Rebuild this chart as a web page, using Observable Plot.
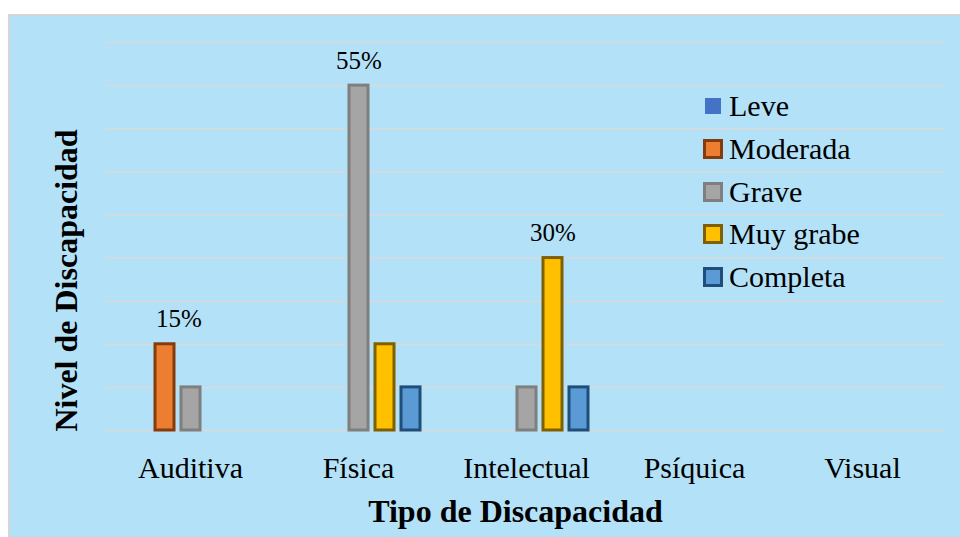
<!DOCTYPE html>
<html><head><meta charset="utf-8">
<script src="https://cdn.jsdelivr.net/npm/d3@7"></script>
<script src="https://cdn.jsdelivr.net/npm/@observablehq/plot@0.6"></script>
<style>
html,body{margin:0;padding:0;background:#fff;}
#wrap{position:relative;width:960px;height:537px;overflow:hidden;}
#bg{position:absolute;left:8px;top:14px;width:980px;height:560px;background:#b3e1f7;border-left:2px solid #d6d6d6;border-top:2px solid #d6d6d6;}
#chart{position:absolute;left:0;top:0;}
#legend{position:absolute;left:703px;top:85px;font-family:"Liberation Serif","Times New Roman",serif;font-size:30px;color:#000;}
.row{display:flex;align-items:center;height:42.7px;white-space:nowrap;}
.sw{box-sizing:border-box;margin-right:6px;}
</style></head><body>
<div id="wrap"><div id="bg"></div><div id="chart"></div><div id="legend"></div></div>
<script>
const categories = ["Auditiva", "Física", "Intelectual", "Psíquica", "Visual"];
const series = ["Leve", "Moderada", "Grave", "Muy grabe", "Completa"];
const leve     = [0, 0, 0, 0, 0];
const moderada = [2, 0, 0, 0, 0];
const grave    = [1, 8, 1, 0, 0];
const muyGrabe = [0, 2, 4, 0, 0];
const completa = [0, 1, 1, 0, 0];
const pctLabels = [
  {category: "Auditiva", series: "Moderada", text: "15%"},
  {category: "Física", series: "Grave", text: "55%"},
  {category: "Intelectual", series: "Muy grabe", text: "30%"}
];
const yTicks = [0, 1, 2, 3, 4, 5, 6, 7, 8, 9];
const fills = ["#4472c4", "#ed7d31", "#a5a5a5", "#ffc000", "#5b9bd5"];
const strokes = ["none", "#843c0c", "#7f7f7f", "#7f6000", "#1f4e79"];
const xTitle = "Tipo de Discapacidad";
const yTitle = "Nivel de Discapacidad";

const valuesBySeries = [leve, moderada, grave, muyGrabe, completa];
const rows = [];
series.forEach((s, i) => categories.forEach((c, j) => rows.push({category: c, series: s, value: valuesBySeries[i][j]})));
const bars = rows.filter(d => d.value > 0);
const labelRows = pctLabels.map(l => ({...l, value: rows.find(r => r.category === l.category && r.series === l.series).value}));

const font = '"Liberation Serif", "Times New Roman", serif';

const chart = Plot.plot({
  width: 960, height: 537,
  marginLeft: 105, marginRight: 14, marginTop: 42, marginBottom: 107,
  style: {background: "transparent", fontFamily: font, color: "#000", overflow: "visible"},
  fx: {domain: categories, padding: 0, axis: null},
  x: {domain: series, paddingInner: 0.27, paddingOuter: 0.865, axis: null},
  y: {domain: [0, 9], axis: null},
  marks: [
    Plot.barY(rows, {fx: "category", x: "series", y: "value", fill: "none", stroke: "none"}),
    Plot.gridY(yTicks, {stroke: "#d9d9d9", strokeOpacity: 1, strokeWidth: 1.5}),
    ...series.map((s, i) => Plot.barY(bars.filter(d => d.series === s), {
      fx: "category", x: "series", y: "value", fill: fills[i], stroke: strokes[i], strokeWidth: 3
    })),
    Plot.text(labelRows.filter(d => d.category !== "Auditiva"), {
      fx: "category", x: "series", y: "value", text: "text", lineAnchor: "bottom", dy: -17, fontSize: 25, fill: "#000"
    }),
    Plot.text(labelRows.filter(d => d.category === "Auditiva"), {
      fx: "category", x: "series", y: "value", text: "text", lineAnchor: "bottom", dy: -17, dx: 14, fontSize: 25, fill: "#000"
    }),
    Plot.axisFx({anchor: "bottom", tickSize: 0, tickPadding: 26, fontSize: 30, label: null, fill: "#000"}),
    Plot.text([{c: "Intelectual", t: xTitle}], {
      fx: "c", text: "t", frameAnchor: "bottom", lineAnchor: "bottom", textAnchor: "middle", dy: 91, dx: -11, fontSize: 32, fontWeight: "bold", fill: "#000"
    }),
    Plot.text([{c: "Auditiva", t: yTitle}], {
      fx: "c", text: "t", frameAnchor: "left", rotate: -90, textAnchor: "middle", lineAnchor: "middle", dx: -40, dy: 44, fontSize: 32, fontWeight: "bold", fill: "#000"
    })
  ]
});
document.getElementById("chart").appendChild(chart);

const legend = d3.select("#legend");
series.forEach((s, i) => {
  const row = legend.append("div").attr("class", "row");
  const sw = row.append("span").attr("class", "sw")
    .style("background", fills[i]);
  if (strokes[i] === "none") {
    sw.style("width", "16px").style("height", "16px").style("margin-left", "2px").style("margin-right", "8px");
  } else {
    sw.style("width", "20px").style("height", "20px").style("border", `3px solid ${strokes[i]}`);
  }
  row.append("span").text(s);
});
</script>
</body></html>
